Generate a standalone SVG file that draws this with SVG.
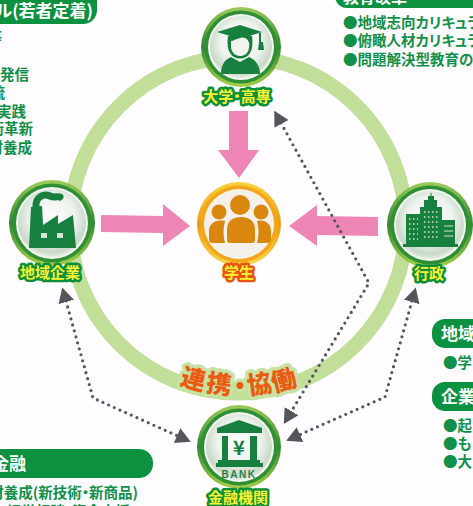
<svg xmlns="http://www.w3.org/2000/svg" width="473" height="506" viewBox="0 0 473 506">
<style>
text{font-family:"Noto Sans CJK JP","Noto Sans",sans-serif;font-weight:700;font-feature-settings:"palt"}
.ring{fill:none;stroke:#c2df9a;stroke-width:15}
.pill{fill:#0b9140}
.pt{fill:#fff;font-size:17px}
.li{fill:#109048;font-size:14.5px}
.arrow{fill:#ee86b5}
.dot{fill:none;stroke:#55565a;stroke-width:3.200;stroke-linecap:round;stroke-dasharray:0 6.200;stroke-linejoin:round}
.ic{fill:#17803e}
.ico{fill:#d9870f}
.hole{fill:#d5e4d4}
.lab{font-size:15px;fill:#f8f332;stroke:#0b8f3a;stroke-width:5;stroke-linejoin:round;paint-order:stroke;text-anchor:middle}
.lab.o{stroke:#e8550f}
.co{font-size:25px;font-weight:900;fill:#ec5a12;stroke:#c7e2a2;stroke-width:7;stroke-linejoin:round;paint-order:stroke;text-anchor:middle}
.glass{fill:url(#glass)}
.gr1{fill:url(#ringG)}
.gr2{fill:#2f8f35}
.or1{fill:url(#ringO)}
.or2{fill:#f3a51c}
</style>
<defs>
<linearGradient id="ringG" x1="0" y1="0" x2="0" y2="1"><stop offset="0" stop-color="#9ecb5a"/><stop offset=".5" stop-color="#2e8a30"/><stop offset="1" stop-color="#a6d04a"/></linearGradient>
<linearGradient id="ringO" x1="0" y1="0" x2="0" y2="1"><stop offset="0" stop-color="#f8d23c"/><stop offset=".5" stop-color="#ee9a12"/><stop offset="1" stop-color="#fbd94a"/></linearGradient>
<radialGradient id="glass" cx=".5" cy=".42" r=".6"><stop offset="0" stop-color="#fdfefd"/><stop offset=".55" stop-color="#eef3ee"/><stop offset=".85" stop-color="#c8d9c8"/><stop offset="1" stop-color="#eef4ea"/></radialGradient>
<marker id="tri" markerUnits="userSpaceOnUse" markerWidth="18" markerHeight="18" refX="1" refY="8" orient="auto-start-reverse"><path d="M0,0L15,8L0,16Z" fill="#55565a"/></marker>
</defs>
<rect width="473" height="506" fill="#fffdff"/>
<circle class="ring" cx="238" cy="225" r="168"/>

<g id="panel-top-left">
<rect class="pill" x="-30" y="-20" width="127" height="44" rx="14"/>
<text class="pt" x="93" y="17" text-anchor="end">ル(若者定着)</text>
<g class="li" text-anchor="end">
<text x="2" y="43">等</text>
<text x="29" y="80">発信</text>
<text x="5" y="98">流</text>
<text x="26" y="117">実践</text>
<text x="33" y="134">術革新</text>
<text x="32" y="153">材養成</text>
</g>
</g>
<g id="panel-top-right">
<rect class="pill" x="335" y="-20" width="170" height="28" rx="12"/>
<text class="pt" x="343" y="3" style="font-size:16px">教育改革</text>
<text class="li" x="343" y="28">●地域志向カリキュラ</text>
<text class="li" x="343" y="46">●俯瞰人材カリキュラ</text>
<text class="li" x="343" y="65">●問題解決型教育の</text>
</g>
<g id="panel-right-1">
<rect class="pill" x="432" y="319" width="70" height="29" rx="13"/>
<text class="pt" x="441" y="340">地域</text>
<text class="li" x="443" y="368">●学</text>
</g>
<g id="panel-right-2">
<rect class="pill" x="432" y="382" width="70" height="29" rx="13"/>
<text class="pt" x="441" y="403">企業</text>
<text class="li" x="443" y="431">●起</text>
<text class="li" x="443" y="449">●も</text>
<text class="li" x="443" y="467">●大</text>
</g>
<g id="panel-bottom-left">
<rect class="pill" x="-30" y="449" width="183" height="29" rx="14"/>
<text class="pt" x="26" y="470" text-anchor="end">金融</text>
<text class="li" x="138" y="498" text-anchor="end">材養成(新技術・新商品)</text>
<text class="li" x="130" y="517" text-anchor="end">・経営相談・資金支援</text>
</g>

<g id="connectors">
<path class="arrow" d="M229,111H248V150H259L239,178L218,150H229Z"/>
<path class="arrow" d="M101,215L163,216V204L190,226L163,246V233L101,232Z"/>
<path class="arrow" d="M378,217L317,216V205L289,226L317,246V235L378,236Z"/>
<path class="dot" marker-start="url(#tri)" marker-end="url(#tri)" d="M281,123L369,283L291,412"/>
<path class="dot" marker-start="url(#tri)" marker-end="url(#tri)" d="M66,301L93,398L178,436"/>
<path class="dot" marker-start="url(#tri)" marker-end="url(#tri)" d="M412,301L385,397L299,435"/>
</g>

<g id="collab">
<text class="co" transform="translate(191,388) rotate(16)">連</text>
<text class="co" transform="translate(218,393) rotate(8)">携</text>
<text class="co" transform="translate(240,395)">・</text>
<text class="co" transform="translate(261,393) rotate(-8)">協</text>
<text class="co" transform="translate(286,389) rotate(-15)">働</text>
</g>

<g id="node-university">
<circle class="gr1" cx="241" cy="47" r="40"/><circle class="gr2" cx="241" cy="47" r="36.500"/><circle cx="241" cy="47" r="33" fill="#f2f6f1"/><circle class="glass" cx="241" cy="47" r="31"/>
<path class="ic" d="M217,32L240,25L262,32L240,39Z"/>
<path class="ic" d="M228,36L252,36C253,43 253,53 246,57C242,59 238,59 234,57C227,53 227,43 228,36Z"/>
<path d="M231,41C236,40 242,36 245,38C249,40 250,44 249,48C248,54 244,56 240,56C236,56 232,53 231,48Z" fill="#f0f4ef"/>
<path class="ic" d="M259,33H261V42H263L264,50H258L259,42Z"/>
<path class="ic" d="M221,74C221,66 224,60 231,57L240,62L249,57C256,60 260,66 260,74Z"/>
<text class="lab" x="237" y="102">大学・高専</text>
</g>

<g id="node-company">
<circle class="gr1" cx="52" cy="223" r="43"/><circle class="gr2" cx="52" cy="223" r="39.500"/><circle cx="52" cy="223" r="36" fill="#f2f6f1"/><circle class="glass" cx="52" cy="223" r="34"/>
<path class="ic" d="M29,248L76,248L73,215L58,224V215L43,225L42,206L31,207Z"/>
<path d="M36,207C35,197 44,193 50,196C54,198 58,196 60,197" fill="none" stroke="#17803e" stroke-width="7" stroke-linecap="round"/>
<rect class="hole" x="41" y="233" width="6" height="5"/><rect class="hole" x="57" y="233" width="6" height="5"/>
<text class="lab" x="50" y="278">地域企業</text>
</g>

<g id="node-student">
<circle class="or1" cx="239" cy="224" r="42"/><circle class="or2" cx="239" cy="224" r="38.500"/><circle cx="239" cy="224" r="35" fill="#f7f4ee"/><circle cx="239" cy="224" r="33" fill="#f4f0ea"/>
<circle class="ico" cx="240" cy="205" r="10"/><circle class="ico" cx="219" cy="212" r="7.500"/><circle class="ico" cx="261" cy="212" r="7.500"/>
<path class="ico" d="M227,229C227,221 233,217 241,217C249,217 255,221 255,229V240Q255,243 252,243H230Q227,243 227,240Z"/>
<path class="ico" d="M225,221C215,219 209,224 209,231V239Q209,243 213,243H225C223,236 223,228 225,221Z"/>
<path class="ico" d="M257,221C265,219 271,224 271,231V239Q271,243 267,243H257C259,236 259,228 257,221Z"/>
<text class="lab o" x="239" y="278">学生</text>
</g>

<g id="node-government">
<circle class="gr1" cx="430" cy="225" r="43"/><circle class="gr2" cx="430" cy="225" r="39.500"/><circle cx="430" cy="225" r="36" fill="#f2f6f1"/><circle class="glass" cx="430" cy="225" r="34"/>
<path class="ic" d="M403,244H406V214H420V207H424V200H428V196H430.500V193H431.500V196H434V200H437V207H442V220H455V244H458V247H403Z"/>
<path d="M409,219H418M409,224H418M409,229H418M409,234H418M409,239H418M424,212H440M424,217H440M424,222H440M424,227H440M424,232H440M424,237H440" stroke="#d5e4d4" stroke-width="1.500" stroke-dasharray="1.500 2.500" fill="none"/>
<path d="M444,226H453M444,231H453M444,236H453" stroke="#d5e4d4" stroke-width="1" fill="none"/>
<text class="lab" x="429" y="279">行政</text>
</g>

<g id="node-bank">
<circle class="gr1" cx="239" cy="447" r="42"/><circle class="gr2" cx="239" cy="447" r="38.500"/><circle cx="239" cy="447" r="35" fill="#f2f6f1"/><circle class="glass" cx="239" cy="447" r="33"/>
<path class="ic" d="M217,428L239,420L262,428V433H217Z"/>
<rect class="ic" x="222" y="436" width="6" height="24"/><rect class="ic" x="250" y="436" width="7" height="24"/>
<rect class="ic" x="218" y="460" width="42" height="3"/><rect class="ic" x="216" y="463" width="47" height="4"/>
<text x="239" y="455" text-anchor="middle" style="font-size:20px;fill:#17803e">¥</text>
<text x="239" y="478" text-anchor="middle" style="font-size:10px;letter-spacing:1.500px;fill:#2b7f4a;font-family:'Liberation Sans',sans-serif">BANK</text>
<text class="lab" x="238" y="503">金融機関</text>
</g>
</svg>
